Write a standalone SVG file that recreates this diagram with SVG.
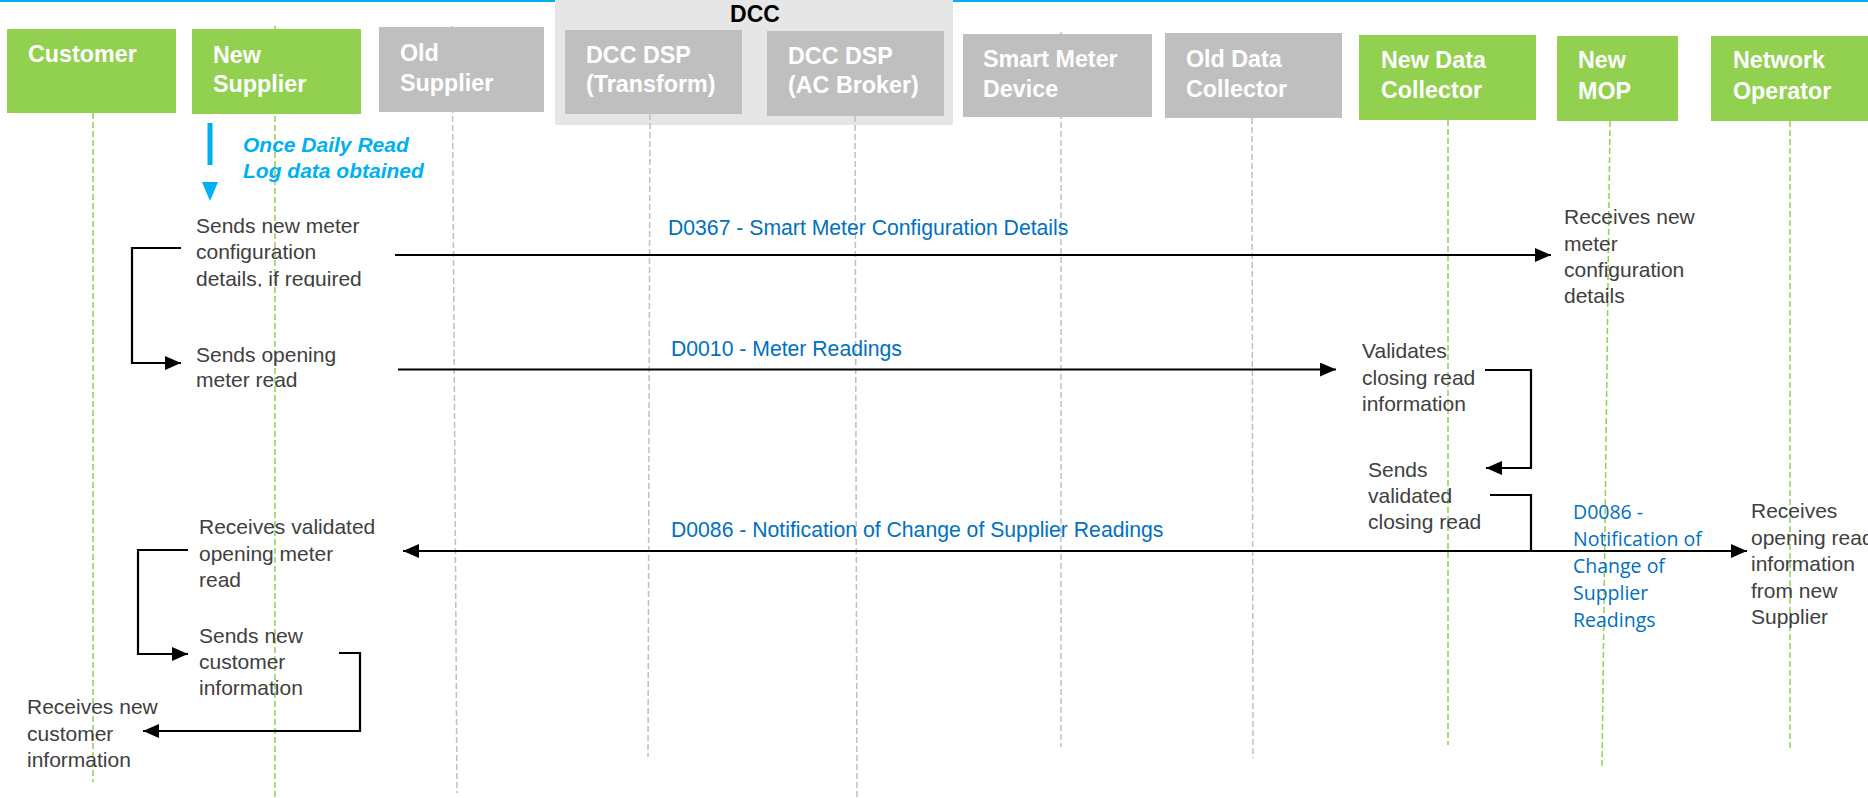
<svg xmlns="http://www.w3.org/2000/svg" width="1868" height="798" viewBox="0 0 1868 798">
<style>
.bg{fill:#ffffff}
.green{fill:#92D050}
.grey{fill:#BFBFBF}
.hdr{font-family:"Liberation Sans",Arial,sans-serif;font-weight:bold;font-size:23.3px;fill:#ffffff}
.ll-g{stroke:#92D050;stroke-width:1.5;stroke-dasharray:6 3;fill:none}
.ll-x{stroke:#BFBFBF;stroke-width:1.5;stroke-dasharray:6 3;fill:none}
.note{font-family:"Liberation Sans",Arial,sans-serif;font-size:21px;fill:#404040}
.msg{font-family:"Liberation Sans",Arial,sans-serif;font-size:21.2px;fill:#0070C0}
.msg2{font-family:"Open Sans","Liberation Sans",sans-serif;font-size:19.5px;fill:#0070C0}
.conn{stroke:#000000;stroke-width:2.2;fill:none}
</style>
<defs>
<marker id="ah" markerUnits="userSpaceOnUse" markerWidth="17" markerHeight="15" refX="16" refY="7" orient="auto-start-reverse" viewBox="0 0 17 15">
<path d="M0,0 L16,7 L0,14 z" fill="#000000"/>
</marker>
<clipPath id="clipNote1"><rect x="150" y="200" width="300" height="87"/></clipPath>
</defs>
<rect class="bg" x="0" y="0" width="1868" height="798"/>
<rect x="0" y="0" width="1868" height="2" fill="#00B0F0"/>

<g id="dcc-group">
<rect x="555" y="0" width="398" height="125" fill="#E6E6E6"/>
<text x="755" y="22" text-anchor="middle" font-family="Liberation Sans,Arial,sans-serif" font-weight="bold" font-size="23" fill="#000000">DCC</text>
</g>

<g id="lifelines">
<line class="ll-g" x1="93" y1="113" x2="93" y2="782"/>
<line class="ll-g" x1="275" y1="26" x2="275" y2="798"/>
<line class="ll-x" x1="452" y1="26" x2="457" y2="793"/>
<line class="ll-x" x1="650" y1="114" x2="648" y2="757"/>
<line class="ll-x" x1="855" y1="116" x2="857" y2="798"/>
<line class="ll-x" x1="1061" y1="32" x2="1061" y2="747"/>
<line class="ll-x" x1="1252" y1="118" x2="1253" y2="758"/>
<line class="ll-g" x1="1448" y1="120" x2="1448" y2="745"/>
<line class="ll-g" x1="1610" y1="121" x2="1602" y2="768"/>
<line class="ll-g" x1="1790" y1="121" x2="1790" y2="751"/>
</g>

<g id="customer">
<rect class="green" x="7" y="29" width="169" height="84"/>
<text class="hdr" x="28" y="62">Customer</text>
</g>
<g id="new-supplier">
<rect class="green" x="192" y="29" width="169" height="85"/>
<text class="hdr" x="213" y="63">New</text>
<text class="hdr" x="213" y="92">Supplier</text>
</g>
<g id="old-supplier">
<rect class="grey" x="379" y="27" width="165" height="85"/>
<text class="hdr" x="400" y="61">Old</text>
<text class="hdr" x="400" y="91">Supplier</text>
</g>
<g id="dcc-dsp-transform">
<rect class="grey" x="565" y="30" width="177" height="84"/>
<text class="hdr" x="586" y="63">DCC DSP</text>
<text class="hdr" x="586" y="92">(Transform)</text>
</g>
<g id="dcc-dsp-ac-broker">
<rect class="grey" x="767" y="31" width="177" height="85"/>
<text class="hdr" x="788" y="64">DCC DSP</text>
<text class="hdr" x="788" y="93">(AC Broker)</text>
</g>
<g id="smart-meter-device">
<rect class="grey" x="963" y="34" width="189" height="83"/>
<text class="hdr" x="983" y="67">Smart Meter</text>
<text class="hdr" x="983" y="97">Device</text>
</g>
<g id="old-data-collector">
<rect class="grey" x="1165" y="33" width="177" height="85"/>
<text class="hdr" x="1186" y="67">Old Data</text>
<text class="hdr" x="1186" y="97">Collector</text>
</g>
<g id="new-data-collector">
<rect class="green" x="1359" y="35" width="177" height="85"/>
<text class="hdr" x="1381" y="68">New Data</text>
<text class="hdr" x="1381" y="98">Collector</text>
</g>
<g id="new-mop">
<rect class="green" x="1557" y="36" width="121" height="85"/>
<text class="hdr" x="1578" y="68">New</text>
<text class="hdr" x="1578" y="99">MOP</text>
</g>
<g id="network-operator">
<rect class="green" x="1711" y="36" width="170" height="85"/>
<text class="hdr" x="1733" y="68">Network</text>
<text class="hdr" x="1733" y="99">Operator</text>
</g>

<g id="daily-read">
<rect x="207.5" y="123" width="5" height="42" fill="#00B0F0"/>
<path d="M202,182 L218,182 L210,201 z" fill="#00B0F0"/>
<text x="243" y="152" font-family="Liberation Sans,Arial,sans-serif" font-weight="bold" font-style="italic" font-size="21" fill="#00B0F0">Once Daily Read</text>
<text x="243" y="178" font-family="Liberation Sans,Arial,sans-serif" font-weight="bold" font-style="italic" font-size="21" fill="#00B0F0">Log data obtained</text>
</g>

<g id="notes">
<g clip-path="url(#clipNote1)">
<text class="note" x="196" y="233">Sends new meter</text>
<text class="note" x="196" y="259">configuration</text>
<text class="note" x="196" y="286">details, if required</text>
</g>
<text class="note" x="196" y="362">Sends opening</text>
<text class="note" x="196" y="387">meter read</text>
<text class="note" x="199" y="534">Receives validated</text>
<text class="note" x="199" y="561">opening meter</text>
<text class="note" x="199" y="587">read</text>
<text class="note" x="199" y="643">Sends new</text>
<text class="note" x="199" y="669">customer</text>
<text class="note" x="199" y="695">information</text>
<text class="note" x="27" y="714">Receives new</text>
<text class="note" x="27" y="741">customer</text>
<text class="note" x="27" y="767">information</text>
<text class="note" x="1564" y="224">Receives new</text>
<text class="note" x="1564" y="251">meter</text>
<text class="note" x="1564" y="277">configuration</text>
<text class="note" x="1564" y="303">details</text>
<text class="note" x="1362" y="358">Validates</text>
<text class="note" x="1362" y="385">closing read</text>
<text class="note" x="1362" y="411">information</text>
<text class="note" x="1368" y="477">Sends</text>
<text class="note" x="1368" y="503">validated</text>
<text class="note" x="1368" y="529">closing read</text>
<text class="note" x="1751" y="518">Receives</text>
<text class="note" x="1751" y="545">opening read</text>
<text class="note" x="1751" y="571">information</text>
<text class="note" x="1751" y="598">from new</text>
<text class="note" x="1751" y="624">Supplier</text>
</g>

<g id="connectors">
<line class="conn" x1="395" y1="255" x2="1551" y2="255" marker-end="url(#ah)"/>
<line class="conn" x1="398" y1="369.5" x2="1336" y2="369.5" marker-end="url(#ah)"/>
<line class="conn" x1="403" y1="551" x2="1747" y2="551" marker-start="url(#ah)" marker-end="url(#ah)"/>
<path class="conn" d="M181,248 H132 V363 H181" marker-end="url(#ah)"/>
<path class="conn" d="M188,550 H138 V654 H188" marker-end="url(#ah)"/>
<path class="conn" d="M339,653 H360 V731 H143" marker-end="url(#ah)"/>
<path class="conn" d="M1485,370 H1531 V468 H1486" marker-end="url(#ah)"/>
<path class="conn" d="M1490,495 H1531 V551"/>
</g>

<g id="labels">
<text class="msg" x="668" y="235">D0367 - Smart Meter Configuration Details</text>
<text class="msg" x="671" y="356">D0010 - Meter Readings</text>
<text class="msg" x="671" y="537">D0086 - Notification of Change of Supplier Readings</text>
<text class="msg2" x="1573" y="519">D0086 -</text>
<text class="msg2" x="1573" y="546">Notification of</text>
<text class="msg2" x="1573" y="573">Change of</text>
<text class="msg2" x="1573" y="600">Supplier</text>
<text class="msg2" x="1573" y="627">Readings</text>
</g>
</svg>
